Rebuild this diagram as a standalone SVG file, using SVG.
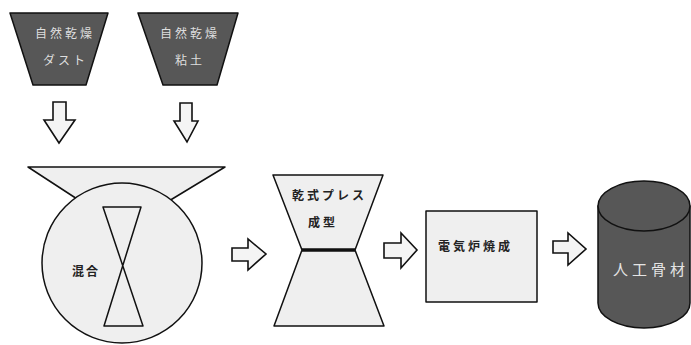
<svg xmlns="http://www.w3.org/2000/svg" width="691" height="345" viewBox="0 0 691 345">
  <style>
    .dark { fill: #575757; stroke: #111; stroke-width: 1.5; stroke-linejoin: round; }
    .light { fill: #efefef; stroke: #111; stroke-width: 1.5; stroke-linejoin: round; }
    .line { fill: none; stroke: #111; stroke-width: 1.5; stroke-linejoin: round; }
    .arrow { fill: #f4f4f4; stroke: #111; stroke-width: 1.6; stroke-linejoin: miter; }
    text { font-family: "Noto Sans CJK JP", "Noto Sans", sans-serif; }
    .lbl-light { fill: #dedede; font-size: 12px; letter-spacing: 3px; }
    .lbl-dark { fill: #222; font-size: 12px; font-weight: bold; letter-spacing: 3px; }
    .lbl-big { fill: #e4e4e4; font-size: 15px; letter-spacing: 4px; }
  </style>
  <rect width="691" height="345" fill="#ffffff"/>

  <!-- hopper: air-dried dust -->
  <g id="hopper-dust">
    <polygon class="dark" points="10,13 108,13 86,85 33,85"/>
    <text class="lbl-light" x="35" y="38">自然乾燥</text>
    <text class="lbl-light" x="43" y="65">ダスト</text>
  </g>

  <!-- hopper: air-dried clay -->
  <g id="hopper-clay">
    <polygon class="dark" points="138,13 238,13 217,85 163,85"/>
    <text class="lbl-light" x="160" y="38">自然乾燥</text>
    <text class="lbl-light" x="175" y="65">粘土</text>
  </g>

  <!-- mixer: funnel over a drum with a bowtie blade -->
  <g id="mixer">
    <polygon class="light" points="28,167 225,167 154,210 94,210"/>
    <circle class="light" cx="122" cy="263" r="80"/>
    <path class="line" d="M103,207 L141,207 L104,326 L143,326 Z"/>
    <text class="lbl-dark" x="72" y="276" style="letter-spacing:2px">混合</text>
  </g>

  <!-- dry press -->
  <g id="press">
    <polygon class="light" points="273,175 383,175 355,250 384,326 274,326 302,250"/>
    <line x1="302" y1="250" x2="355" y2="250" stroke="#111" stroke-width="3.5"/>
    <text class="lbl-dark" x="292" y="200">乾式プレス</text>
    <text class="lbl-dark" x="308" y="227">成型</text>
  </g>

  <!-- electric furnace -->
  <g id="furnace">
    <rect class="light" x="426" y="211" width="111" height="91"/>
    <text class="lbl-dark" x="438" y="251">電気炉焼成</text>
  </g>

  <!-- product drum -->
  <g id="product">
    <path class="dark" d="M598,206 L598,303 A46,25 0 0 0 690,303 L690,206 Z"/>
    <ellipse class="dark" cx="644" cy="206" rx="46" ry="25"/>
    <text class="lbl-big" x="613" y="275">人工骨材</text>
  </g>

  <!-- block arrows between stages -->
  <g id="connectors">
    <polygon class="arrow" points="53,102 66,102 66,120 75,120 59,143 44,120 53,120"/>
    <polygon class="arrow" points="180,103 192,103 192,121 198,121 187,142 174,121 180,121"/>
    <polygon class="arrow" points="232,248 248,248 248,239 266,254 248,270 248,261 232,261"/>
    <polygon class="arrow" points="384,243 401,243 401,233 417,250 401,268 401,258 384,258"/>
    <polygon class="arrow" points="553,241 568,241 568,233 586,249 568,265 568,253 553,253"/>
  </g>
</svg>
